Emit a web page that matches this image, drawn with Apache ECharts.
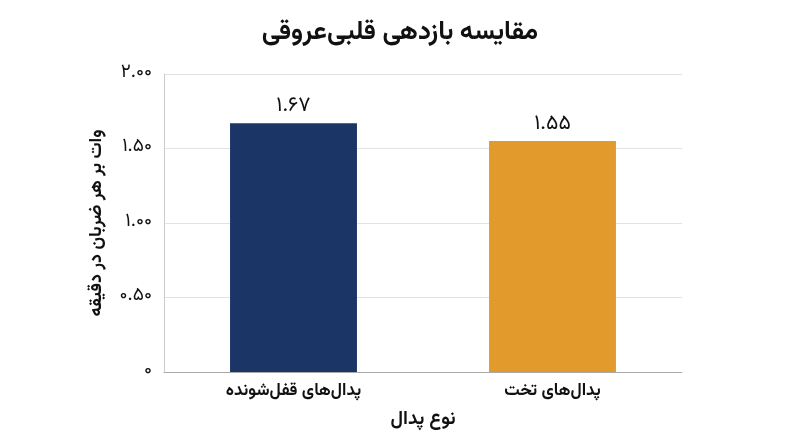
<!DOCTYPE html>
<html>
<head>
<meta charset="utf-8">
<script src="https://cdn.jsdelivr.net/npm/echarts@6/dist/echarts.min.js"></script>
<style>
  html, body { margin: 0; padding: 0; background: #fff; }
  #main { width: 800px; height: 447px; }
</style>
</head>
<body>
<div id="main"></div>
<script>
// data
var categories = ['پدال‌های قفل‌شونده', 'پدال‌های تخت'];
var values = [1.67, 1.55];
var barColors = ['#1b3566', '#e29a2c'];

var FONT = "Vazirmatn, 'Noto Sans Arabic', 'Noto Naskh Arabic', 'DejaVu Sans', sans-serif";

function fa(str) {
  return String(str).replace(/[0-9]/g, function (d) { return '۰۱۲۳۴۵۶۷۸۹'[+d]; });
}

var chart = echarts.init(document.getElementById('main'));
chart.setOption({
  animation: false,
  textStyle: { fontFamily: FONT },
  title: {
    text: 'مقایسه بازدهی قلبی‌عروقی',
    left: 'center',
    top: 17,
    textStyle: { fontSize: 26, fontWeight: 'bold', color: '#111', fontFamily: FONT }
  },
  grid: { left: 164, right: 118, top: 74, bottom: 75 },
  xAxis: {
    type: 'category',
    data: categories,
    name: 'نوع پدال',
    nameLocation: 'middle',
    nameGap: 40,
    nameTextStyle: { fontSize: 19, fontWeight: 'bold', color: '#111' },
    axisLine: { lineStyle: { color: '#aaa' } },
    axisTick: { show: false },
    axisLabel: { fontSize: 17, fontWeight: 'bold', color: '#111', margin: 12 }
  },
  yAxis: {
    type: 'value',
    min: 0,
    max: 2,
    interval: 0.5,
    name: 'وات بر هر ضربان در دقیقه',
    nameLocation: 'middle',
    nameRotate: 90,
    nameGap: 57,
    nameTextStyle: { fontSize: 18, fontWeight: 'bold', color: '#111' },
    axisLine: { show: true, lineStyle: { color: '#ccc' } },
    axisTick: { show: false },
    splitLine: { lineStyle: { color: '#e2e2e2' } },
    axisLabel: {
      fontSize: 19, color: '#111', margin: 12,
      formatter: function (v) { return v === 0 ? fa(0) : fa(v.toFixed(2)); }
    }
  },
  series: [{
    type: 'bar',
    barWidth: '49%',
    data: values.map(function (v, i) { return { value: v, itemStyle: { color: barColors[i] } }; }),
    label: {
      show: true,
      position: 'top',
      distance: 5,
      fontSize: 21,
      color: '#111',
      formatter: function (p) { return fa(p.value.toFixed(2)); }
    }
  }]
});
</script>
</body>
</html>
